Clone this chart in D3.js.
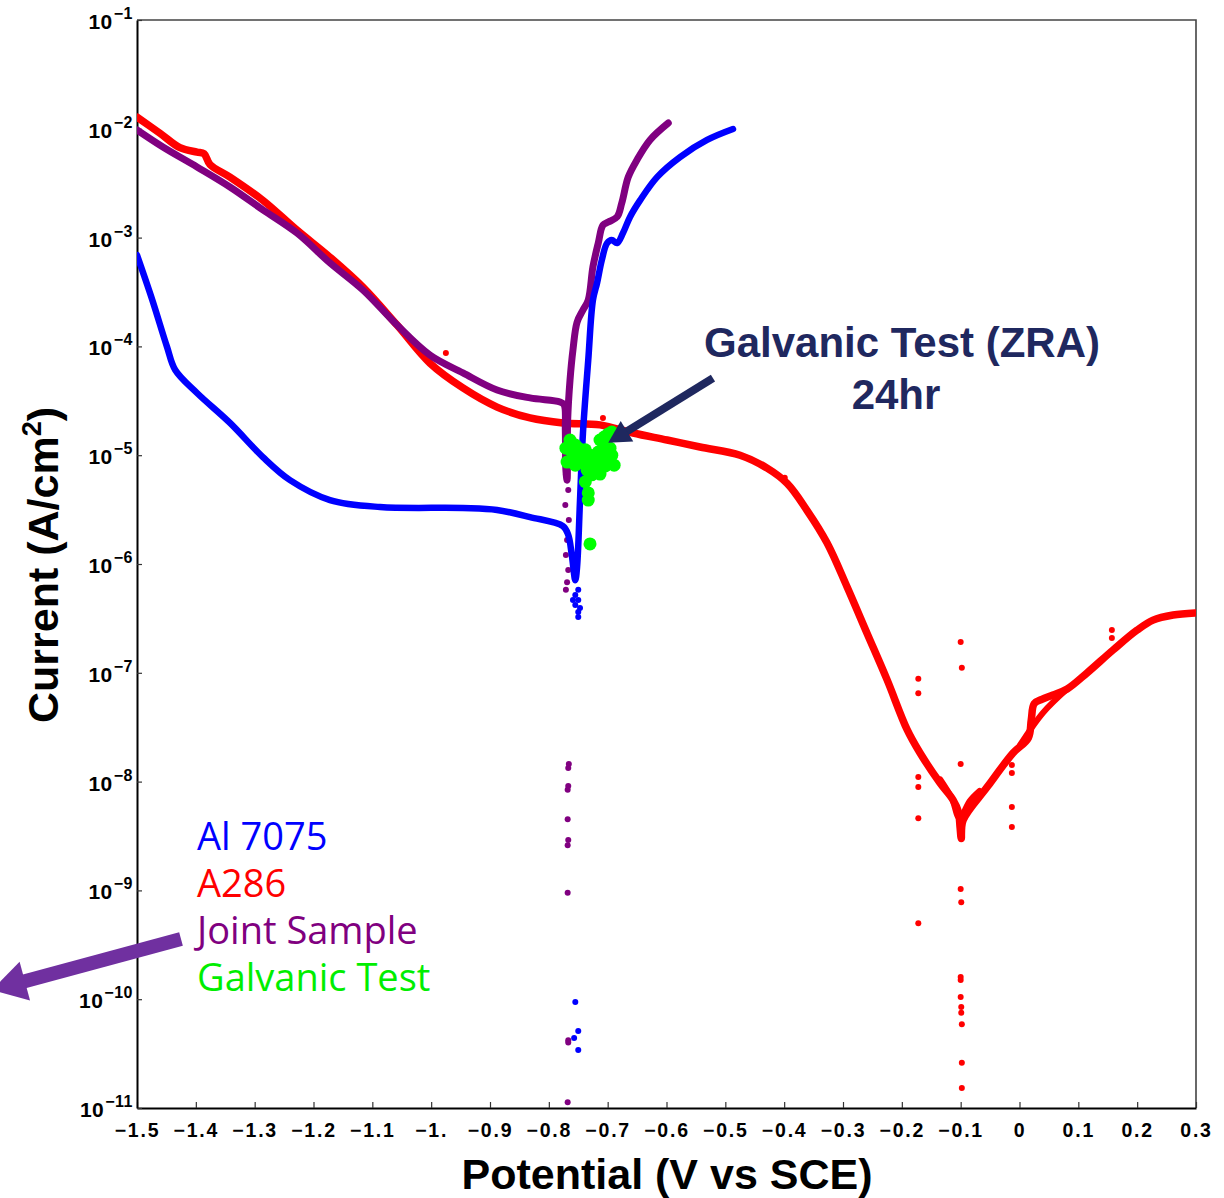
<!DOCTYPE html>
<html>
<head>
<meta charset="utf-8">
<script src="https://cdn.jsdelivr.net/npm/d3@7"></script>
<style>
  body { margin: 0; background: #fff; }
  svg { display: block; }
</style>
</head>
<body>
<svg id="chart" width="1224" height="1198"></svg>
<script>
// ---------- Polarisation data (potential in V vs SCE, current density in A/cm²) ----------

// A286 stainless: one continuous potentiodynamic sweep
const a286V = [-1.500, -1.461, -1.427, -1.398, -1.386, -1.376, -1.342, -1.286, -1.228, -1.172,
               -1.116, -1.058, -1.002, -0.946, -0.888, -0.832, -0.776, -0.713, -0.657, -0.599,
               -0.543, -0.475, -0.429, -0.395, -0.361, -0.327, -0.293, -0.259, -0.225, -0.191,
               -0.169, -0.135, -0.113, -0.104, -0.101, -0.099, -0.096, -0.055, -0.011, 0.015,
               0.020, 0.025, 0.038, 0.057, 0.081, 0.115, 0.159, 0.200, 0.227, 0.261, 0.298];
const a286I = [1.28e-2, 9.1e-3, 6.7e-3, 6.1e-3, 5.9e-3, 4.7e-3, 3.6e-3, 2.2e-3, 1.17e-3, 6.6e-4,
               3.5e-4, 1.57e-4, 7.0e-5, 4.15e-5, 2.77e-5, 2.2e-5, 1.98e-5, 1.9e-5, 1.6e-5, 1.38e-5,
               1.19e-5, 1.0e-5, 7.6e-6, 5.5e-6, 3.1e-6, 1.56e-6, 6.15e-7, 2.3e-7, 8.6e-8, 3.0e-8,
               1.83e-8, 9.7e-9, 6.8e-9, 5.3e-9, 3.8e-9, 3.0e-9, 4.4e-9, 8.9e-9, 1.83e-8, 2.52e-8,
               3.7e-8, 5.2e-8, 5.7e-8, 6.25e-8, 7.1e-8, 1.0e-7, 1.62e-7, 2.47e-7, 3.05e-7, 3.4e-7, 3.55e-7];
// second pass of the A286 trace around Ecorr and just above 0 V
const a286BranchV = [-0.135, -0.115, -0.102, -0.085, -0.068];
const a286BranchI = [1.05e-8, 7.0e-9, 4.6e-9, 6.6e-9, 8.2e-9];
const a286Branch2V = [0.001, 0.040, 0.081];
const a286Branch2I = [2.17e-8, 4.3e-8, 7.1e-8];
// isolated A286 readings
const a286DotV = [-0.975, -0.708, -0.399, -0.172, -0.172, -0.172, -0.172, -0.172, -0.172,
                  -0.100, -0.098, -0.100, -0.100, -0.099, -0.100, -0.100, -0.100, -0.099, -0.099,
                  -0.098, -0.098, -0.098, -0.013, -0.013, -0.013, -0.013, 0.157, 0.157];
const a286DotI = [8.7e-5, 2.2e-5, 6.2e-6, 8.8e-8, 6.5e-8, 1.1e-8, 8.9e-9, 4.6e-9, 5.0e-10,
                  1.92e-7, 1.11e-7, 1.45e-8, 1.03e-9, 7.8e-10, 1.6e-10, 1.5e-10, 1.05e-10, 8.5e-11, 7.5e-11,
                  5.9e-11, 2.6e-11, 1.53e-11, 1.42e-8, 1.2e-8, 5.85e-9, 3.83e-9, 2.47e-7, 2.09e-7];

// Al 7075: cathodic branch down to Ecorr, then anodic branch
const al7075V = [-1.500, -1.474, -1.449, -1.435, -1.398, -1.342, -1.286, -1.240, -1.172, -1.087,
                 -0.946, -0.888, -0.832, -0.776, -0.767, -0.761, -0.755,
                 -0.752, -0.747, -0.742, -0.733, -0.725, -0.718, -0.710, -0.701, -0.693, -0.684,
                 -0.674, -0.662, -0.645, -0.616, -0.577, -0.531, -0.487];
const al7075I = [6.9e-4, 2.67e-4, 9.9e-5, 6.07e-5, 3.73e-5, 1.98e-5, 9.6e-6, 5.9e-6, 3.87e-6, 3.34e-6,
                 3.27e-6, 3.14e-6, 2.7e-6, 2.23e-6, 1.85e-6, 1.21e-6, 7.1e-7,
                 9.4e-7, 3.87e-6, 1.6e-5, 7.5e-5, 2.67e-4, 3.83e-4, 6.2e-4, 8.9e-4, 9.5e-4, 8.9e-4,
                 1.1e-3, 1.55e-3, 2.2e-3, 3.6e-3, 5.5e-3, 7.9e-3, 9.95e-3];
const al7075DotV = [-0.750, -0.755, -0.750, -0.755, -0.747, -0.750, -0.750, -0.759,
                    -0.755, -0.750, -0.757, -0.750];
const al7075DotI = [5.8e-7, 5.2e-7, 4.67e-7, 4.2e-7, 3.94e-7, 3.62e-7, 3.26e-7, 4.67e-7,
                    9.4e-11, 5.1e-11, 4.4e-11, 3.41e-11];

// Joint sample (Al 7075 + A286)
const jointV = [-1.500, -1.456, -1.398, -1.342, -1.286, -1.228, -1.172, -1.116, -1.058, -1.002,
                -0.946, -0.888, -0.832, -0.781, -0.774, -0.772, -0.771,
                -0.769, -0.768, -0.764, -0.759, -0.752, -0.742, -0.733, -0.725, -0.716, -0.708,
                -0.699, -0.684, -0.676, -0.665, -0.650, -0.628, -0.597];
const jointI = [9.75e-3, 6.8e-3, 4.46e-3, 2.92e-3, 1.8e-3, 1.1e-3, 5.85e-4, 3.3e-4, 1.57e-4, 8.3e-5,
                5.7e-5, 3.97e-5, 3.36e-5, 3.08e-5, 2.9e-5, 1.7e-5, 7.3e-6,
                5.9e-6, 2.1e-5, 4.9e-5, 9.3e-5, 1.67e-4, 2.16e-4, 2.67e-4, 5.4e-4, 8.9e-4, 1.3e-3,
                1.39e-3, 1.55e-3, 2.08e-3, 3.6e-3, 5.2e-3, 7.9e-3, 1.13e-2];
const jointDotV = [-0.773, -0.771, -0.771, -0.767, -0.772, -0.766, -0.769, -0.771, -0.767, -0.769,
                   -0.771, -0.766, -0.767, -0.767, -0.768, -0.768, -0.767, -0.768, -0.768, -0.767,
                   -0.768, -0.767];
const jointDotI = [9.3e-6, 9.0e-6, 6.6e-6, 4.8e-6, 3.48e-6, 2.54e-6, 1.66e-6, 1.21e-6, 8.8e-7, 6.8e-7,
                   5.8e-7, 1.45e-8, 1.33e-8, 9.1e-9, 8.4e-9, 4.5e-9, 2.9e-9, 2.6e-9, 9.5e-10, 4.2e-11,
                   1.13e-11, 4.0e-11];

// Galvanic test (zero-resistance ammeter, 24 h) readings
const galvanicV = [-0.764, -0.755, -0.761, -0.750, -0.744, -0.737, -0.730, -0.721, -0.713, -0.704,
                   -0.696, -0.693, -0.696, -0.703, -0.713, -0.706, -0.699, -0.693, -0.716, -0.730,
                   -0.738, -0.747, -0.755, -0.721, -0.708, -0.689, -0.713, -0.727, -0.735, -0.769,
                   -0.738, -0.733, -0.733, -0.730, -0.771, -0.750, -0.725, -0.710, -0.700, -0.742,
                   -0.752, -0.718, -0.735, -0.705, -0.758];
const galvanicI = [1.38e-5, 1.24e-5, 1.07e-5, 1.0e-5, 9.0e-6, 8.1e-6, 7.6e-6, 7.3e-6, 7.6e-6, 7.96e-6,
                   8.65e-6, 1.0e-5, 1.16e-5, 1.32e-5, 1.38e-5, 1.47e-5, 1.57e-5, 1.63e-5, 1.07e-5, 1.0e-5,
                   1.12e-5, 8.65e-6, 8.1e-6, 9.0e-6, 1.0e-5, 8.1e-6, 6.7e-6, 6.6e-6, 7.3e-6, 8.65e-6,
                   5.7e-6, 4.5e-6, 3.87e-6, 1.53e-6, 1.16e-5, 1.16e-5, 9.5e-6, 8.5e-6, 9.5e-6, 9.8e-6,
                   1.12e-5, 8.0e-6, 9.2e-6, 1.1e-5, 9.5e-6];

// Axis ticks
const xTickValues = [-1.5, -1.4, -1.3, -1.2, -1.1, -1.0, -0.9, -0.8, -0.7, -0.6, -0.5, -0.4, -0.3, -0.2, -0.1, 0, 0.1, 0.2, 0.3];
const xTickLabels = ["\u22121.5", "\u22121.4", "\u22121.3", "\u22121.2", "\u22121.1", "\u22121.", "\u22120.9", "\u22120.8", "\u22120.7",
                     "\u22120.6", "\u22120.5", "\u22120.4", "\u22120.3", "\u22120.2", "\u22120.1", "0", "0.1", "0.2", "0.3"];
const yTickExponents = [-11, -10, -9, -8, -7, -6, -5, -4, -3, -2, -1];

// Series names and colours (colour-coded text key)
const seriesNames = ["Al 7075", "A286", "Joint Sample", "Galvanic Test"];
const seriesColors = ["#0000ff", "#ff0000", "#800080", "#00ee00"];

// ---------- Drawing ----------
(function draw() {
const svg = d3.select("#chart");
const plotLeft = 137, plotRight = 1196, plotTop = 20, plotBottom = 1108;

const x = d3.scaleLinear().domain([-1.5, 0.3]).range([plotLeft, plotRight]);
const y = d3.scaleLog().domain([1e-11, 1e-1]).range([plotBottom, plotTop]);

const zip = (a, b) => a.map((v, i) => [v, b[i]]);
const axisFont = "'Liberation Sans', Arial, sans-serif";

svg.append("defs").append("clipPath").attr("id", "plotClip")
  .append("rect").attr("x", plotLeft).attr("y", plotTop)
  .attr("width", plotRight - plotLeft).attr("height", plotBottom - plotTop);

// frame (top and right edges)
svg.append("path")
  .attr("d", `M${plotLeft},${plotTop}H${plotRight}V${plotBottom}`)
  .attr("fill", "none").attr("stroke", "#444").attr("stroke-width", 1.6);

// bottom axis
const xAxis = d3.axisBottom(x).tickValues(xTickValues).tickSize(-6).tickSizeOuter(0).tickPadding(15)
  .tickFormat((d, i) => xTickLabels[i]);
const gx = svg.append("g").attr("transform", `translate(0,${plotBottom})`).call(xAxis);
gx.select(".domain").attr("stroke", "#000").attr("stroke-width", 2);
gx.selectAll(".tick line").attr("stroke", "#333").attr("stroke-width", 1.2);
gx.selectAll(".tick text").attr("font-family", axisFont).attr("font-weight", "bold")
  .attr("font-size", 19.5).attr("letter-spacing", 1.8).attr("fill", "#000");

// left axis (labels built with superscript exponents)
const yAxis = d3.axisLeft(y).tickValues(yTickExponents.map(e => Math.pow(10, e)))
  .tickSize(-5).tickSizeOuter(0).tickFormat("");
const gy = svg.append("g").attr("transform", `translate(${plotLeft},0)`).call(yAxis);
gy.select(".domain").attr("stroke", "#000").attr("stroke-width", 2);
gy.selectAll(".tick line").attr("stroke", "#333").attr("stroke-width", 1.2);

const yLab = svg.append("g").attr("font-family", axisFont).attr("font-weight", "bold").attr("fill", "#000");
yTickExponents.forEach(e => {
  const ty = y(Math.pow(10, e));
  const t = yLab.append("text").attr("x", plotLeft - 4).attr("y", ty + 9).attr("text-anchor", "end");
  t.append("tspan").attr("font-size", 21).attr("letter-spacing", 0.5).text("10");
  t.append("tspan").attr("font-size", 16).attr("dy", -10).attr("dx", 1).attr("letter-spacing", 0.5)
    .text("\u2212" + Math.abs(e));
});

// axis titles
svg.append("text").attr("x", 667).attr("y", 1189).attr("text-anchor", "middle")
  .attr("font-family", axisFont).attr("font-weight", "bold").attr("font-size", 43).text("Potential (V vs SCE)");

const yTitle = svg.append("text").attr("transform", "translate(58,565) rotate(-90)").attr("text-anchor", "middle")
  .attr("font-family", axisFont).attr("font-weight", "bold").attr("font-size", 43);
yTitle.append("tspan").text("Current (A/cm");
yTitle.append("tspan").attr("font-size", 27).attr("dy", -17).text("2");
yTitle.append("tspan").attr("dy", 17).text(")");

// data layer
const plot = svg.append("g").attr("clip-path", "url(#plotClip)");
const line = d3.line().x(d => x(d[0])).y(d => y(d[1])).curve(d3.curveCatmullRom.alpha(0.5));

function drawLine(data, color, width) {
  plot.append("path").datum(data).attr("d", line)
    .attr("fill", "none").attr("stroke", color).attr("stroke-width", width)
    .attr("stroke-linejoin", "round").attr("stroke-linecap", "round");
}
function drawDots(data, color, r) {
  plot.append("g").selectAll("circle").data(data).join("circle")
    .attr("cx", d => x(d[0])).attr("cy", d => y(d[1])).attr("r", r).attr("fill", color);
}

drawLine(zip(a286V, a286I), seriesColors[1], 7.5);
drawLine(zip(a286BranchV, a286BranchI), seriesColors[1], 6);
drawLine(zip(a286Branch2V, a286Branch2I), seriesColors[1], 6);
drawDots(zip(a286DotV, a286DotI), seriesColors[1], 3);

drawLine(zip(jointV, jointI), seriesColors[2], 7);
drawDots(zip(jointDotV, jointDotI), seriesColors[2], 3);

drawLine(zip(al7075V, al7075I), seriesColors[0], 6.5);
drawDots(zip(al7075DotV, al7075DotI), seriesColors[0], 3);

drawDots(zip(galvanicV, galvanicI), "#00ff00", 6.5);

// colour-coded series names
const key = svg.append("g").attr("font-family", "'Open Sans', Lato, sans-serif").attr("font-size", 38);
seriesNames.forEach((name, i) => {
  key.append("text").attr("x", 197).attr("y", 850 + i * 47).attr("fill", seriesColors[i]).text(name);
});

// arrow helper: shaft plus triangular head
function arrow(x1, y1, x2, y2, width, headLen, headHalf, color) {
  const dx = x2 - x1, dy = y2 - y1, len = Math.hypot(dx, dy);
  const ux = dx / len, uy = dy / len, px = -uy, py = ux;
  const bx = x2 - ux * headLen, by = y2 - uy * headLen;
  svg.append("line").attr("x1", x1).attr("y1", y1).attr("x2", bx + ux * 2).attr("y2", by + uy * 2)
    .attr("stroke", color).attr("stroke-width", width);
  svg.append("polygon")
    .attr("points", [[x2, y2], [bx + px * headHalf, by + py * headHalf], [bx - px * headHalf, by - py * headHalf]]
      .map(p => p.join(",")).join(" "))
    .attr("fill", color);
}

// purple pointer beside the key
arrow(181, 939, -8, 990, 14, 34, 20, "#7030a0");

// galvanic-test callout
const navy = "#1f285f";
arrow(x(-0.521), y(5.1e-5), x(-0.699), y(1.3e-5), 8, 22, 12, navy);
const callout = svg.append("g").attr("font-family", axisFont).attr("font-weight", "bold")
  .attr("font-size", 42).attr("fill", navy).attr("text-anchor", "middle");
callout.append("text").attr("x", 902).attr("y", 357).text("Galvanic Test (ZRA)");
callout.append("text").attr("x", 896).attr("y", 409).text("24hr");
})();
</script>
</body>
</html>
